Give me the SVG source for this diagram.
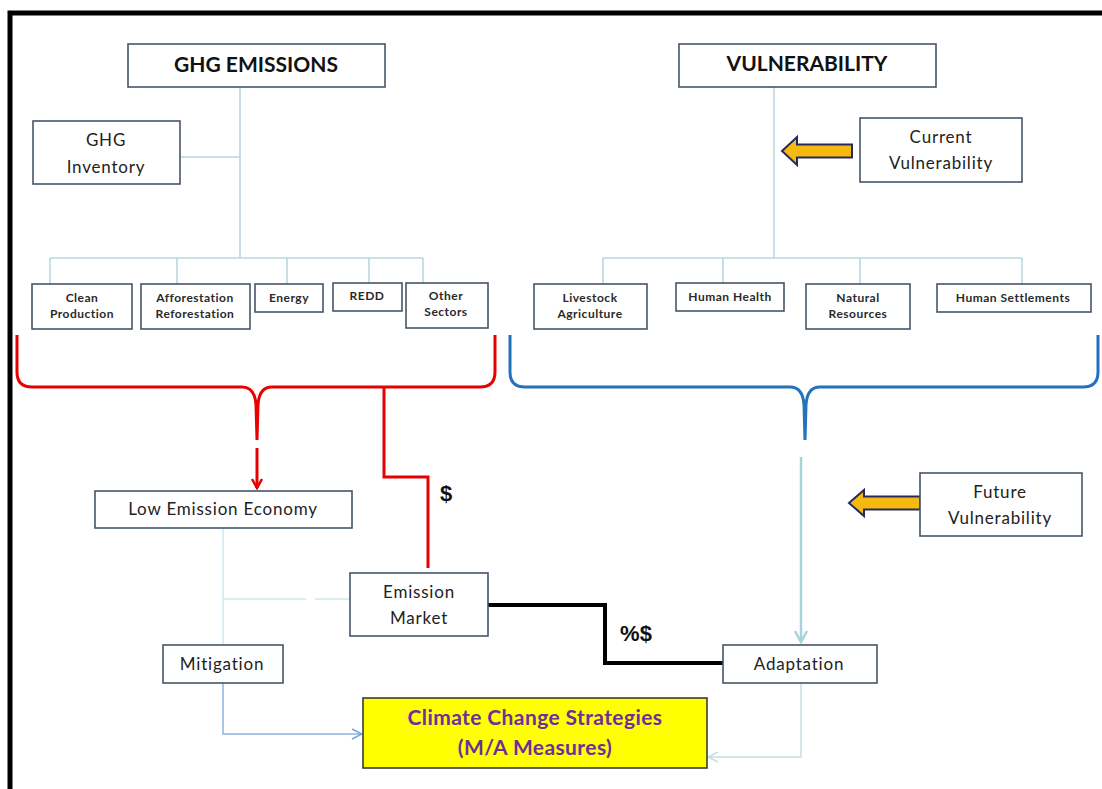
<svg xmlns="http://www.w3.org/2000/svg" width="1102" height="789" viewBox="0 0 1102 789">
  <style>
    .box { fill: #ffffff; stroke: #46556a; stroke-width: 1.6; }
    .t { font-family: Lato, "Liberation Sans", sans-serif; fill: #222222; text-anchor: middle; }
    .head { font-size: 21px; font-weight: bold; fill: #111111; }
    .mid { font-size: 17px; letter-spacing: 0.8px; }
    .small { font-size: 12px; font-weight: bold; fill: #2a2a2a; letter-spacing: 0.5px; }
    .goal { font-size: 21px; font-weight: bold; fill: #6f2f9a; letter-spacing: 0.4px; }
    .tree { fill: none; stroke: #b9d7e0; stroke-width: 1.6; }
    .money { font-family: "Liberation Sans", Arial, sans-serif; font-size: 22px; font-weight: bold; fill: #111111; text-anchor: middle; }
    .block { fill: #f6b90f; stroke: #262a5e; stroke-width: 2; stroke-linejoin: miter; }
  </style>
  <defs>
    <marker id="vRed" viewBox="0 0 12 12" refX="10" refY="6" markerWidth="12" markerHeight="12" markerUnits="userSpaceOnUse" orient="auto">
      <path d="M1 1 L10 6 L1 11" fill="none" stroke="#e60000" stroke-width="2.5"/>
    </marker>
    <marker id="vTeal" viewBox="0 0 14 14" refX="12" refY="7" markerWidth="14" markerHeight="14" markerUnits="userSpaceOnUse" orient="auto">
      <path d="M1 1 L12 7 L1 13" fill="none" stroke="#a9d3da" stroke-width="2.5"/>
    </marker>
    <marker id="vBlue" viewBox="0 0 12 12" refX="11" refY="6" markerWidth="12" markerHeight="12" markerUnits="userSpaceOnUse" orient="auto">
      <path d="M1 1 L11 6 L1 11" fill="none" stroke="#7aa3d6" stroke-width="1.5"/>
    </marker>
    <marker id="vPale" viewBox="0 0 12 12" refX="11" refY="6" markerWidth="12" markerHeight="12" markerUnits="userSpaceOnUse" orient="auto">
      <path d="M1 1 L11 6 L1 11" fill="none" stroke="#c3e0e6" stroke-width="1.5"/>
    </marker>
  </defs>

  <rect width="1102" height="789" fill="#ffffff"/>
  <!-- outer frame -->
  <rect x="10" y="13" width="1120" height="800" fill="none" stroke="#000000" stroke-width="5"/>

  <!-- connectors -->
  <g id="connectors">
    <!-- GHG tree -->
    <path class="tree" d="M240 87 V258 M180 157 H240 M50 258 H423 M50 258 V284 M177 258 V284 M287 258 V284 M369 258 V283 M423 258 V283"/>
    <!-- vulnerability tree -->
    <path class="tree" d="M774 87 V258 M603 258 H1022 M603 258 V284 M723 258 V283 M860 258 V284 M1022 258 V284"/>

    <!-- red brace -->
    <path d="M17 335 V372 Q17 387 32 387 H242 Q255 387 256 405 L257 440 L258 405 Q259 387 272 387 H480 Q495 387 495 372 V335" fill="none" stroke="#e60000" stroke-width="3"/>
    <line x1="257" y1="448" x2="257" y2="488" stroke="#e60000" stroke-width="3" marker-end="url(#vRed)"/>
    <path d="M384 387 V477 H428 V568" fill="none" stroke="#e60000" stroke-width="3"/>

    <!-- blue brace -->
    <path d="M510 335 V372 Q510 387 525 387 H790 Q803 387 804 405 L805 440 L806 405 Q807 387 820 387 H1083 Q1098 387 1098 372 V335" fill="none" stroke="#2273bb" stroke-width="3"/>
    <line x1="801" y1="457" x2="801" y2="642" stroke="#a9d3da" stroke-width="2.5" marker-end="url(#vTeal)"/>

    <!-- low emission economy to mitigation / emission market -->
    <path d="M223 528 V645 M223 599 H306 M315 599 H350" fill="none" stroke="#d2e6ee" stroke-width="1.5"/>

    <!-- emission market to adaptation -->
    <path d="M488 605 H605 V663 H723" fill="none" stroke="#000000" stroke-width="4"/>

    <!-- mitigation to strategies -->
    <path d="M223 683 V734 H362" fill="none" stroke="#8fb2de" stroke-width="1.5" marker-end="url(#vBlue)"/>
    <!-- adaptation to strategies -->
    <path d="M801 683 V757 H708" fill="none" stroke="#c3e0e6" stroke-width="1.5" marker-end="url(#vPale)"/>

    <!-- block arrows -->
    <polygon class="block" points="852,144.5 797,144.5 797,137 782,151 797,165 797,157.5 852,157.5"/>
    <polygon class="block" points="920,496.5 864,496.5 864,490 849,503 864,516 864,509.5 920,509.5"/>

    <text class="money" x="446" y="501">$</text>
    <text class="money" x="636" y="641">%$</text>
  </g>

  <g id="ghg-emissions">
    <rect class="box" x="128" y="44" width="257" height="43"/>
    <text class="t head" x="256" y="72">GHG EMISSIONS</text>
  </g>
  <g id="ghg-inventory">
    <rect class="box" x="33" y="121" width="147" height="63"/>
    <text class="t mid" x="106" y="146">GHG</text>
    <text class="t mid" x="106" y="173">Inventory</text>
  </g>
  <g id="clean-production">
    <rect class="box" x="32" y="284" width="100" height="45"/>
    <text class="t small" x="82" y="302">Clean</text>
    <text class="t small" x="82" y="318">Production</text>
  </g>
  <g id="afforestation">
    <rect class="box" x="141" y="284" width="109" height="45"/>
    <text class="t small" x="195" y="302">Afforestation</text>
    <text class="t small" x="195" y="318">Reforestation</text>
  </g>
  <g id="energy">
    <rect class="box" x="255" y="284" width="68" height="28"/>
    <text class="t small" x="289" y="302">Energy</text>
  </g>
  <g id="redd">
    <rect class="box" x="333" y="283" width="69" height="28"/>
    <text class="t small" x="367" y="300">REDD</text>
  </g>
  <g id="other-sectors">
    <rect class="box" x="406" y="283" width="82" height="45"/>
    <text class="t small" x="446" y="300">Other</text>
    <text class="t small" x="446" y="316">Sectors</text>
  </g>

  <g id="vulnerability">
    <rect class="box" x="679" y="44" width="257" height="43"/>
    <text class="t head" x="807" y="71">VULNERABILITY</text>
  </g>
  <g id="current-vulnerability">
    <rect class="box" x="860" y="118" width="162" height="64"/>
    <text class="t mid" x="941" y="143">Current</text>
    <text class="t mid" x="941" y="169">Vulnerability</text>
  </g>
  <g id="livestock-agriculture">
    <rect class="box" x="534" y="284" width="113" height="45"/>
    <text class="t small" x="590" y="302">Livestock</text>
    <text class="t small" x="590" y="318">Agriculture</text>
  </g>
  <g id="human-health">
    <rect class="box" x="676" y="283" width="108" height="28"/>
    <text class="t small" x="730" y="301">Human Health</text>
  </g>
  <g id="natural-resources">
    <rect class="box" x="806" y="284" width="104" height="45"/>
    <text class="t small" x="858" y="302">Natural</text>
    <text class="t small" x="858" y="318">Resources</text>
  </g>
  <g id="human-settlements">
    <rect class="box" x="937" y="284" width="154" height="28"/>
    <text class="t small" x="1013" y="302">Human Settlements</text>
  </g>

  <g id="low-emission-economy">
    <rect class="box" x="95" y="491" width="257" height="37"/>
    <text class="t mid" x="223" y="515">Low Emission Economy</text>
  </g>
  <g id="emission-market">
    <rect class="box" x="350" y="573" width="138" height="63"/>
    <text class="t mid" x="419" y="598">Emission</text>
    <text class="t mid" x="419" y="624">Market</text>
  </g>
  <g id="mitigation">
    <rect class="box" x="163" y="645" width="120" height="38"/>
    <text class="t mid" x="222" y="670">Mitigation</text>
  </g>
  <g id="future-vulnerability">
    <rect class="box" x="920" y="473" width="162" height="63"/>
    <text class="t mid" x="1000" y="498">Future</text>
    <text class="t mid" x="1000" y="524">Vulnerability</text>
  </g>
  <g id="adaptation">
    <rect class="box" x="723" y="645" width="154" height="38"/>
    <text class="t mid" x="799" y="670">Adaptation</text>
  </g>
  <g id="climate-strategies">
    <rect x="363" y="698" width="344" height="70" fill="#ffff00" stroke="#3a3a3a" stroke-width="1.6"/>
    <text class="t goal" x="535" y="725">Climate Change Strategies</text>
    <text class="t goal" x="535" y="755">(M/A Measures)</text>
  </g>
</svg>
